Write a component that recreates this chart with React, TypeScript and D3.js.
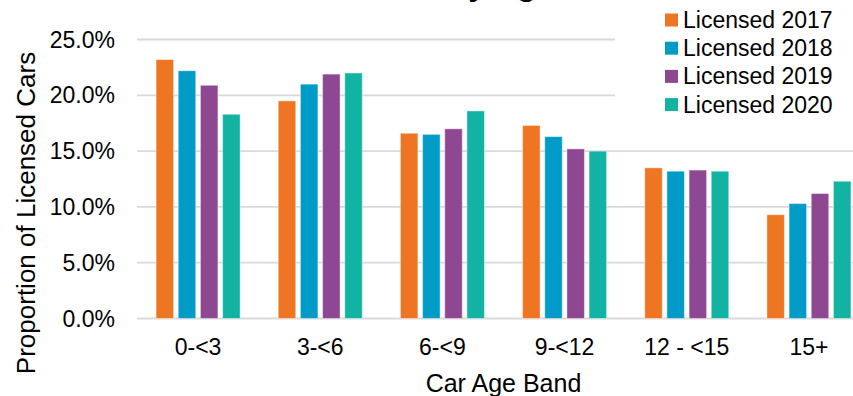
import React from "react";
import * as d3 from "d3";

const categories = ["0-<3", "3-<6", "6-<9", "9-<12", "12 - <15", "15+"];
const seriesNames = ["Licensed 2017", "Licensed 2018", "Licensed 2019", "Licensed 2020"];
const licensed2017 = [23.2, 19.5, 16.6, 17.3, 13.5, 9.3];
const licensed2018 = [22.2, 21.0, 16.5, 16.3, 13.2, 10.3];
const licensed2019 = [20.9, 21.9, 17.0, 15.2, 13.3, 11.2];
const licensed2020 = [18.3, 22.0, 18.6, 15.0, 13.2, 12.3];
const seriesValues = [licensed2017, licensed2018, licensed2019, licensed2020];
const colors = ["#EE7521", "#009CC7", "#8E4891", "#12B3A3"];
const yTicks = [0, 5, 10, 15, 20, 25];

const W = 853;
const H = 396;
const FONT = "'Liberation Sans', Arial, sans-serif";

export default function App() {
  const plotLeft = 137;
  const plotRight = 870;
  const plotTop = 39.5;
  const plotBottom = 318.5;

  const x0 = d3.scaleBand<string>().domain(categories).range([plotLeft, plotRight]).padding(0);
  const bw = x0.bandwidth();
  const groupW = bw * 0.688;
  const x1 = d3
    .scaleBand<string>()
    .domain(seriesNames)
    .range([(bw - groupW) / 2, (bw + groupW) / 2])
    .paddingInner(0.21);
  const y = d3.scaleLinear().domain([0, 25]).range([plotBottom, plotTop]);
  const fmt = d3.format(".1f");

  return (
    <svg
      width={W}
      height={H}
      style={{ position: "absolute", left: 0, top: 0, background: "#fff", overflow: "hidden" }}
      fontFamily={FONT}
    >
      <rect x={0} y={0} width={W} height={H} fill="#fff" />
      {/* chart title, sitting above the top edge of the canvas */}
      <text x={221} y={-5} fontSize={32} fontWeight="bold" fill="#000">
        Licensed Cars by Age Band
      </text>

      {/* gridlines */}
      {yTicks.map((t) => (
        <line
          key={t}
          x1={plotLeft}
          x2={plotRight}
          y1={y(t)}
          y2={y(t)}
          stroke="#D9D9D9"
          strokeWidth={t === 0 ? 2 : 1.8}
        />
      ))}

      {/* y tick labels */}
      {yTicks.map((t) => (
        <text
          key={"yl" + t}
          x={115}
          y={y(t)}
          dy="0.35em"
          textAnchor="end"
          fontSize={23}
          fill="#000"
        >
          {fmt(t) + "%"}
        </text>
      ))}

      {/* bars */}
      {categories.map((c, ci) => (
        <g key={c} transform={`translate(${x0(c)},0)`}>
          {seriesNames.map((s, si) => {
            const v = seriesValues[si][ci];
            return (
              <rect
                key={s}
                x={x1(s)}
                y={y(v)}
                width={x1.bandwidth()}
                height={y(0) - y(v)}
                fill={colors[si]}
                stroke="#fff"
                strokeOpacity={0.45}
                strokeWidth={1}
              />
            );
          })}
        </g>
      ))}

      {/* x tick labels */}
      {categories.map((c) => (
        <text
          key={"xl" + c}
          x={(x0(c) as number) + bw / 2}
          y={355}
          textAnchor="middle"
          fontSize={23}
          fill="#000"
        >
          {c}
        </text>
      ))}

      {/* axis titles */}
      <text x={(plotLeft + plotRight) / 2} y={392} textAnchor="middle" fontSize={25} fill="#000">
        Car Age Band
      </text>
      <text
        transform={`translate(35,213) rotate(-90)`}
        textAnchor="middle"
        fontSize={26}
        fill="#000"
      >
        Proportion of Licensed Cars
      </text>

      {/* legend */}
      <g>
        <rect x={615} y={4} width={240} height={112} fill="#fff" />
        {seriesNames.map((s, i) => (
          <g key={s} transform={`translate(665,${20 + i * 28.2})`}>
            <rect x={0} y={-6.5} width={13} height={13} fill={colors[i]} />
            <text x={18} y={0} dy="0.35em" fontSize={23} fill="#000">
              {s}
            </text>
          </g>
        ))}
      </g>
    </svg>
  );
}
